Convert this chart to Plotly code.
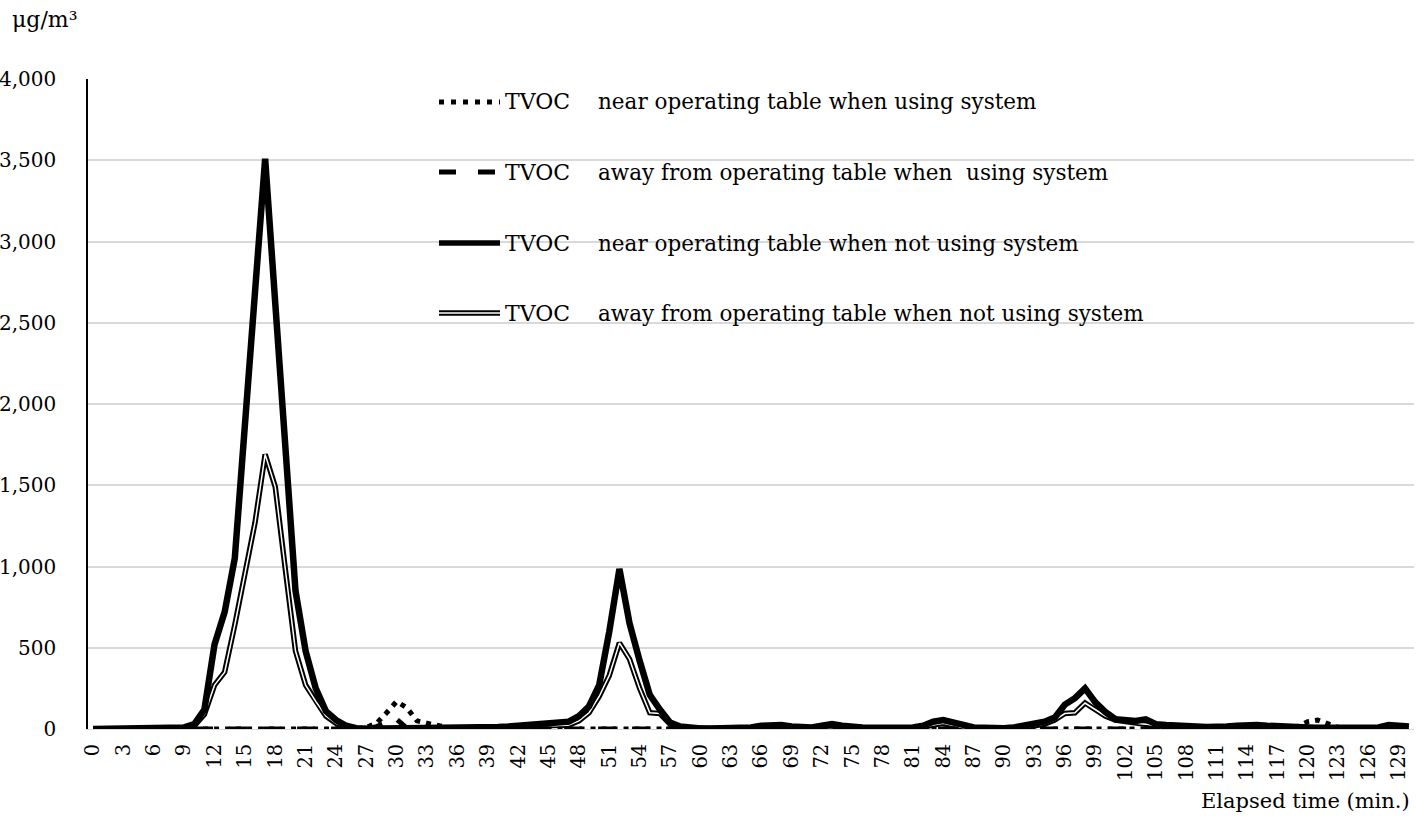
import plotly.graph_objects as go

# ---------------- data ----------------
minutes = list(range(131))

near_using = [
    0, 0, 0, 0, 0, 0, 0, 0, 0, 0,
    0, 0, 0, 0, 0, 0, 0, 0, 0, 0,
    0, 0, 0, 0, 0, 0, 0, 10, 35, 100,
    170, 130, 50, 35, 20, 10, 5, 0, 0, 0,
    0, 0, 0, 0, 0, 0, 0, 0, 0, 0,
    0, 0, 0, 0, 0, 0, 0, 0, 0, 0,
    0, 0, 0, 0, 0, 0, 0, 0, 0, 0,
    0, 0, 0, 0, 0, 0, 0, 0, 0, 0,
    0, 0, 0, 0, 0, 0, 0, 0, 0, 0,
    0, 0, 0, 0, 0, 0, 0, 0, 0, 0,
    0, 0, 0, 0, 0, 0, 0, 0, 0, 0,
    0, 0, 0, 0, 0, 0, 0, 0, 0, 15,
    45, 55, 30, 10, 0, 0, 0, 0, 0, 0,
    0,
]

away_using = [
    0, 0, 0, 0, 0, 0, 0, 0, 0, 0,
    0, 0, 0, 0, 0, 0, 0, 0, 0, 0,
    0, 0, 0, 0, 0, 0, 0, 0, 15, 40,
    60, 5, 0, 0, 0, 0, 0, 0, 0, 0,
    0, 0, 0, 0, 0, 0, 0, 0, 0, 0,
    0, 0, 0, 0, 0, 0, 0, 0, 0, 0,
    0, 0, 0, 0, 0, 0, 0, 0, 0, 0,
    0, 0, 0, 0, 0, 0, 0, 0, 0, 0,
    0, 0, 0, 0, 0, 0, 0, 0, 0, 0,
    0, 0, 0, 0, 0, 0, 0, 0, 0, 0,
    0, 0, 0, 0, 0, 0, 0, 0, 0, 0,
    0, 0, 0, 0, 0, 0, 0, 0, 0, 0,
    0, 0, 0, 0, 0, 0, 0, 0, 0, 0,
    0,
]

near_not_using = [
    0, 0, 0, 0, 0, 0, 0, 0, 0, 10,
    30, 120, 520, 720, 1050, 1900, 2620, 3510, 2620, 1750,
    850, 480, 250, 110, 55, 20, 5, 2, 2, 2,
    3, 3, 3, 3, 3, 4, 5, 5, 8, 10,
    12, 15, 20, 25, 30, 35, 35, 45, 80, 140,
    270, 600, 985, 650, 420, 210, 120, 40, 15, 5,
    3, 3, 5, 5, 5, 10, 20, 25, 25, 15,
    10, 10, 20, 30, 20, 10, 10, 8, 10, 10,
    5, 10, 20, 45, 55, 40, 15, 10, 8, 5,
    5, 10, 20, 35, 45, 70, 150, 190, 250, 165,
    105, 60, 50, 50, 60, 30, 25, 25, 20, 15,
    12, 10, 15, 20, 25, 25, 20, 15, 12, 10,
    10, 8, 8, 8, 5, 5, 8, 10, 25, 15,
    15,
]

away_not_using = [
    0, 0, 0, 0, 0, 0, 0, 0, 0, 0,
    20, 90, 270, 350, 640, 960, 1270, 1690, 1490, 980,
    480, 270, 170, 80, 35, 10, 3, 2, 2, 2,
    2, 2, 2, 2, 3, 3, 5, 5, 5, 5,
    5, 8, 10, 15, 20, 20, 20, 25, 50, 100,
    200, 330, 530, 430, 250, 100, 95, 30, 10, 5,
    3, 3, 3, 3, 3, 8, 15, 20, 15, 10,
    5, 5, 15, 20, 10, 5, 5, 5, 5, 5,
    5, 5, 10, 25, 35, 20, 8, 5, 5, 5,
    5, 5, 10, 20, 30, 55, 95, 100, 160, 120,
    80, 55, 45, 35, 30, 20, 15, 15, 12, 10,
    10, 8, 10, 12, 15, 15, 12, 10, 8, 8,
    8, 6, 6, 5, 5, 5, 5, 8, 15, 10,
    10,
]

x_tick_vals = list(range(0, 130, 3))
y_tick_vals = [0, 500, 1000, 1500, 2000, 2500, 3000, 3500, 4000]

legend_prefix = "TVOC"
legend_labels = [
    "near operating table when using system",
    "away from operating table when  using system",
    "near operating table when not using system",
    "away from operating table when not using system",
]

FONT = "DejaVu Serif"

# ---------------- figure ----------------
fig = go.Figure()

# double line (outer black, inner white)
fig.add_trace(go.Scatter(x=minutes, y=away_not_using, mode="lines",
                         line=dict(color="black", width=5.5), showlegend=False,
                         name=legend_labels[3]))
fig.add_trace(go.Scatter(x=minutes, y=away_not_using, mode="lines",
                         line=dict(color="white", width=1.5), showlegend=False,
                         hoverinfo="skip"))
# thick solid
fig.add_trace(go.Scatter(x=minutes, y=near_not_using, mode="lines",
                         line=dict(color="black", width=6.5), showlegend=False,
                         name=legend_labels[2]))
# dashed
fig.add_trace(go.Scatter(x=minutes, y=away_using, mode="lines",
                         line=dict(color="black", width=5, dash="18px,16px"),
                         showlegend=False, name=legend_labels[1]))
# dotted
fig.add_trace(go.Scatter(x=minutes, y=near_using, mode="lines",
                         line=dict(color="black", width=5, dash="5px,6px"),
                         showlegend=False, name=legend_labels[0]))

# ---------------- layout geometry (page pixels) ----------------
W, H = 1416, 816
L = 88
T = 79
B = H - 729
R = W - 1414
PW, PH = W - L - R, H - T - B


def px_x(px):
    return (px - L) / PW


def px_y(py):
    return (H - B - py) / PH


rows_py = [102, 172, 243, 313]
styles = [
    dict(color="black", width=5, dash="5px,7px"),
    dict(color="black", width=5, dash="17px,22px"),
    dict(color="black", width=5.5),
    dict(color="black", width=5.5),
]
shapes = []
annotations = []
for i, py in enumerate(rows_py):
    shapes.append(dict(type="line", xref="paper", yref="paper",
                       x0=px_x(439), x1=px_x(500), y0=px_y(py), y1=px_y(py),
                       line=styles[i]))
    if i == 3:
        shapes.append(dict(type="line", xref="paper", yref="paper",
                           x0=px_x(439), x1=px_x(500), y0=px_y(py), y1=px_y(py),
                           line=dict(color="white", width=1.5)))
    annotations.append(dict(xref="paper", yref="paper", x=px_x(503), y=px_y(py),
                            text=legend_prefix, showarrow=False, xanchor="left",
                            yanchor="middle", font=dict(family=FONT, size=22, color="black")))
    annotations.append(dict(xref="paper", yref="paper", x=px_x(596), y=px_y(py),
                            text=legend_labels[i], showarrow=False, xanchor="left",
                            yanchor="middle", font=dict(family=FONT, size=21.5, color="black")))

annotations.append(dict(xref="paper", yref="paper", x=px_x(10), y=px_y(19),
                        text="μg/m³", showarrow=False, xanchor="left", yanchor="middle",
                        font=dict(family=FONT, size=22, color="black")))
annotations.append(dict(xref="paper", yref="paper", x=px_x(1412), y=px_y(801),
                        text="Elapsed time (min.)", showarrow=False, xanchor="right",
                        yanchor="middle", font=dict(family=FONT, size=21, color="black")))

fig.update_layout(
    width=W, height=H,
    margin=dict(l=L, r=R, t=T, b=B, pad=0, autoexpand=False),
    paper_bgcolor="white", plot_bgcolor="white",
    showlegend=False,
    shapes=shapes,
    annotations=annotations,
    font=dict(family=FONT, color="black"),
)

fig.update_xaxes(
    range=[-0.5, 130.5],
    tickmode="array", tickvals=x_tick_vals,
    ticktext=[str(v) for v in x_tick_vals],
    tickangle=-90,
    tickfont=dict(family=FONT, size=19.5, color="black"),
    showgrid=False, zeroline=False,
    showline=True, linecolor="#d9d9d9", linewidth=1,
    ticks="", ticklabelstandoff=6, automargin=False,
)
fig.update_yaxes(
    range=[0, 4000],
    tickmode="array", tickvals=y_tick_vals,
    ticktext=[f"{v:,}" for v in y_tick_vals],
    tickfont=dict(family=FONT, size=20, color="black"),
    showgrid=True, gridcolor="#d9d9d9", gridwidth=1.5,
    zeroline=False,
    showline=True, linecolor="black", linewidth=1.5,
    ticks="", ticklabelstandoff=26, automargin=False,
)

fig.write_html(
    "out.html",
    config={"displayModeBar": False},
    post_script="document.body.style.margin='0';document.body.style.overflow='hidden';",
)
